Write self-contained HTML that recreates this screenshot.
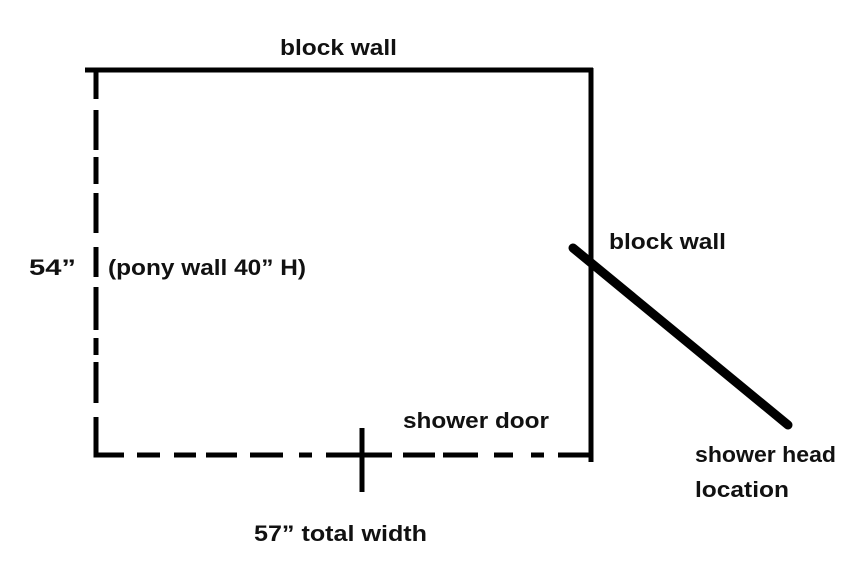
<!DOCTYPE html>
<html><head><style>
body{margin:0;background:#fff;}
svg{display:block}
text{font-family:"Liberation Sans",sans-serif;font-weight:bold;font-size:22px;fill:#111}
</style></head><body>
<svg width="850" height="579" viewBox="0 0 850 579">
<g stroke="#000" stroke-width="5" fill="none">
<line x1="85" y1="70" x2="593" y2="70"/>
<line x1="591" y1="68" x2="591" y2="462"/>
<path d="M96 70V99 M96 110V150 M96 157V184 M96 193V233 M96 247V277 M96 287V330 M96 338V355 M96 362V403 M96 417V455H124"/>
<path d="M137 455H160 M174 455H196 M206 455H237 M250 455H283 M299 455H312 M326 455H392 M403 455H435 M443 455H478 M494 455H513 M531 455H544 M558 455H589"/>
<line x1="362" y1="428" x2="362" y2="492"/>
<line x1="573" y1="248" x2="788" y2="425" stroke-width="9" stroke-linecap="round"/>
</g>
<text x="280" y="55" textLength="117" lengthAdjust="spacingAndGlyphs">block wall</text>
<text x="609" y="249" textLength="117" lengthAdjust="spacingAndGlyphs">block wall</text>
<text x="29" y="275" textLength="47" lengthAdjust="spacingAndGlyphs">54”</text>
<text x="108" y="275" textLength="198" lengthAdjust="spacingAndGlyphs">(pony wall 40” H)</text>
<text x="403" y="428" textLength="146" lengthAdjust="spacingAndGlyphs">shower door</text>
<text x="695" y="462" textLength="141" lengthAdjust="spacingAndGlyphs">shower head</text>
<text x="695" y="497" textLength="94" lengthAdjust="spacingAndGlyphs">location</text>
<text x="254" y="541" textLength="173" lengthAdjust="spacingAndGlyphs">57” total width</text>
</svg>
</body></html>
